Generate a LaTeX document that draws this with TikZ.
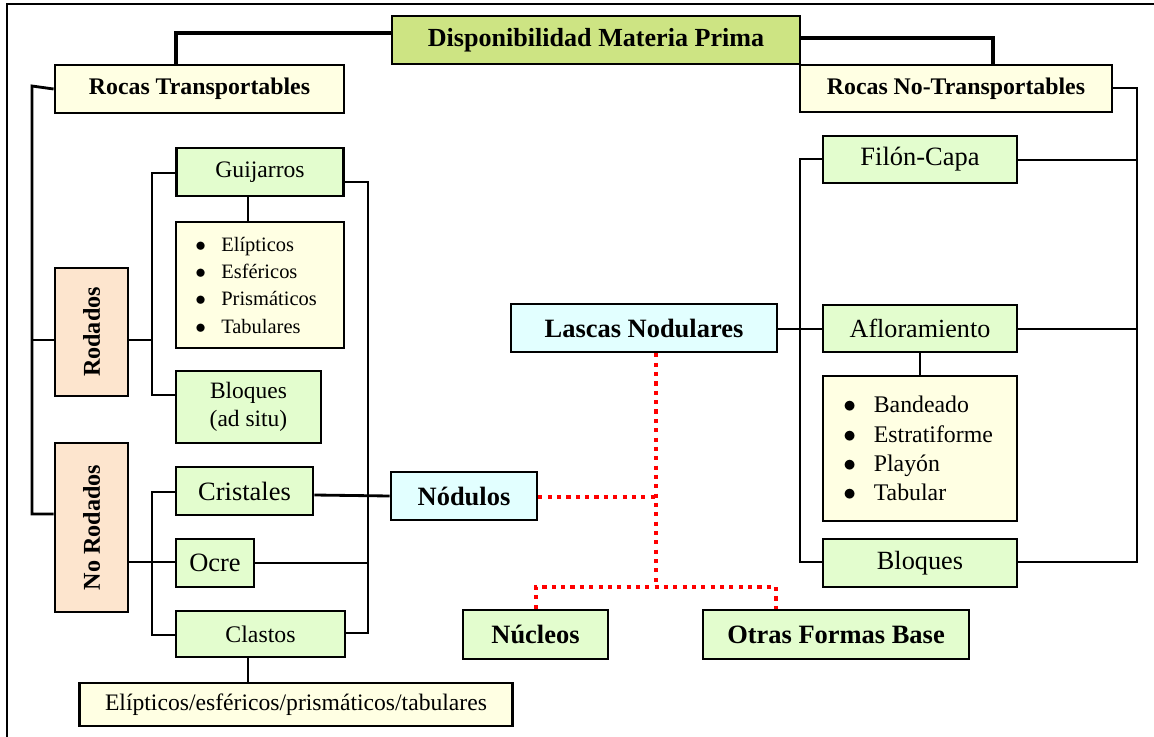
\documentclass[tikz,border=0pt]{standalone}
\usepackage{fontspec}
\setmainfont{Liberation Serif}
\usetikzlibrary{calc}
\definecolor{verdetit}{RGB}{205,228,131}
\definecolor{amarillo}{RGB}{255,255,227}
\definecolor{verde}{RGB}{227,253,206}
\definecolor{salmon}{RGB}{253,229,206}
\definecolor{celeste}{RGB}{226,255,255}
\newcommand{\vineta}{$\bullet$\hspace{0.75em}}
\tikzset{
	caja/.style={draw, line width=1.6pt, inner sep=0pt, align=center},
	dim/.style 2 args={minimum width=#1*0.567pt, minimum height=#2*0.567pt},
	linea/.style={line width=1.6pt},
	gruesa/.style={line width=2.6pt},
	punteado/.style={red, line width=2.3pt, dash pattern=on 2.3pt off 3pt},
	negr/.style={font=\fontsize{#1}{#1}\selectfont\bfseries},
	norm/.style={font=\fontsize{#1}{#1}\selectfont},
}

\begin{document}
\begin{tikzpicture}[x=0.567pt, y=-0.567pt]
			%%%%% START %%%%%
			\useasboundingbox (0,0) rectangle (1154,737);
			\draw[line width=1.1pt] (7,737) -- (7,4) -- (1154,4);
			
			%%%%% CAJAS %%%%%
			\node[caja, fill=verdetit, dim={408}{48}, negr=14.8] (dmp) at (596,40) {Disponibilidad Materia Prima};
			\node[caja, fill=amarillo, dim={289}{48}, negr=13.5] (rt) at (199.5,89) {Rocas Transportables};
			\node[caja, fill=amarillo, dim={312}{47}, negr=13.5] (rnt) at (956,88.5) {Rocas No-Transportables};
			
			\node[caja, fill=salmon, rotate=90, dim={128}{73}, negr=13.7] (rod) at (91.5,332) {Rodados};
			\node[caja, fill=salmon, rotate=90, dim={169}{73}, negr=13.7] (nrod) at (91.5,527.5) {No Rodados};
			
			\node[caja, fill=verde, dim={167}{48}, norm=13.4] (guij) at (260,172) {Guijarros};
			\node[caja, fill=amarillo, dim={168}{126}, inner xsep=11pt, text width=168*0.567pt-22pt, align=left,
				font=\fontsize{11.6}{15.5}\selectfont] (glist) at (260,285)
				{\vineta Elípticos\\ \vineta Esféricos\\ \vineta Prismáticos\\ \vineta Tabulares};
			\node[caja, fill=verde, dim={145}{72}, font=\fontsize{13.3}{16}\selectfont] (bloq1) at (248.5,407) {Bloques\\(ad situ)};
			
			\node[caja, fill=verde, dim={137}{48}, norm=15] (crist) at (244.5,491) {Cristales};
			\node[caja, fill=verde, dim={78}{48}, norm=15] (ocre) at (215,563) {Ocre};
			\node[caja, fill=verde, dim={169}{46}, norm=13.5] (clas) at (260.5,634) {Clastos};
			\node[caja, fill=amarillo, dim={433}{43}, norm=13.4] (eltab) at (296,704.5) {Elípticos/esféricos/prismáticos/tabulares};
			
			\node[caja, fill=celeste, dim={146}{48}, negr=15] (nod) at (464,496) {Nódulos};
			\node[caja, fill=celeste, dim={266}{48}, negr=15] (lasc) at (644,328) {Lascas Nodulares};
			\node[caja, fill=verde, dim={145}{49}, negr=15] (nuc) at (535.5,634.5) {Núcleos};
			\node[caja, fill=verde, dim={266}{49}, negr=15] (otr) at (836,634.5) {Otras Formas Base};
			
			\node[caja, fill=verde, dim={194}{47}, norm=15] (filon) at (920,159.5) {Filón-Capa};
			\node[caja, fill=verde, dim={194}{47}, norm=14.8] (aflo) at (920,328.5) {Afloramiento};
			\node[caja, fill=amarillo, dim={194}{145}, inner xsep=11.5pt, text width=194*0.567pt-23pt, align=left,
				font=\fontsize{13.5}{16.5}\selectfont] (alist) at (920,448.5)
				{\vineta Bandeado\\ \vineta Estratiforme\\ \vineta Playón\\ \vineta Tabular};
			\node[caja, fill=verde, dim={194}{48}, norm=14.9] (bloq2) at (920,563) {Bloques};
			
			%%%%% LINEAS %%%%%
			\draw[gruesa] (dmp.west |- 0,33) -| (rt.north -| 176,0);
			\draw[gruesa] (dmp.east |- 0,38) -| (rnt.north -| 993,0);
			
			\coordinate (tizq) at (32,86);
			\draw[linea] (rt.west) -- (tizq) |- (nrod.north |- 0,514);
			\draw[linea] (tizq |- 0,340) -- (rod.north |- 0,340);
			
			\draw[linea] (rod.south |- 0,340) -- (152,340);
			\draw[linea] (guij.west |- 0,173) -| (152,395) -- (bloq1.west |- 0,395);
			\draw[linea] (guij.south -| 248,0) -- (glist.north -| 248,0);
			
			\draw[linea] (nrod.south |- 0,562) -- (ocre.west |- 0,562);
			\draw[linea] (crist.west |- 0,492) -| (152,635) -- (clas.west |- 0,635);
			\draw[linea] (clas.south -| 248,0) -- (eltab.north -| 248,0);
			
			\draw[linea] (guij.east |- 0,182) -| (368,633) -- (clas.east |- 0,633);
			\draw[linea] (crist.east |- 0,495) -- (nod.west |- 0,496);
			\draw[linea] (ocre.east |- 0,563) -- (368,563);
			
			\draw[punteado] (lasc.south -| 656,0) -- (656,587);
			\draw[punteado] (nod.east |- 0,497) -- (656,497);
			\draw[punteado] (nuc.north -| 536,0) |- (776,587) -- (otr.north -| 776,0);
			
			\draw[linea] (rnt.east |- 0,88) -| (1137,562) -- (bloq2.east |- 0,562);
			\draw[linea] (filon.east |- 0,160) -- (1137,160);
			\draw[linea] (aflo.east |- 0,329) -- (1137,329);
			\draw[linea] (filon.west |- 0,159) -| (800,562) -- (bloq2.west |- 0,562);
			\draw[linea] (lasc.east |- 0,329) -- (aflo.west |- 0,329);
			\draw[linea] (aflo.south -| 920,0) -- (alist.north -| 920,0);
			%%%%% END %%%%%
\end{tikzpicture}
\end{document}
